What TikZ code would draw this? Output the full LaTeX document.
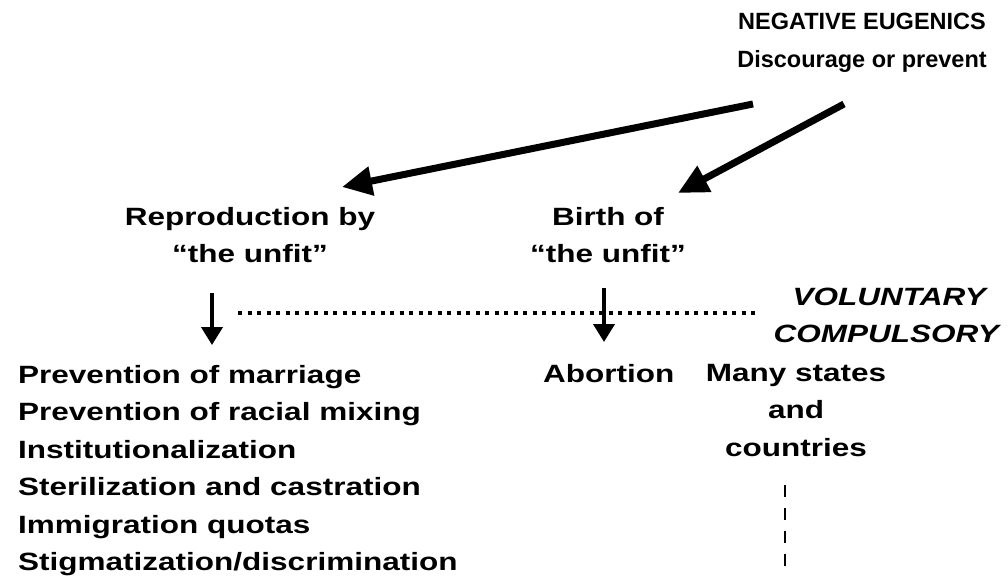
\documentclass[tikz,border=0pt]{standalone}
\usepackage{fontspec}
\setmainfont{Liberation Sans}[FakeStretch=1.26]
\newfontfamily\titlefont{Liberation Sans}
\usetikzlibrary{arrows.meta}
\begin{document}
\begin{tikzpicture}[x=1pt,y=-1pt, line join=round,
    every node/.style={inner sep=0pt, font=\fontsize{25}{37.5}\selectfont\bfseries},
    bigarrow/.style={line width=7pt, -{Triangle[length=30pt,width=28pt]}},
    downarrow/.style={line width=4pt, -{Triangle[length=18pt,width=21pt]}},
    dotrule/.style={line width=4pt, dash pattern=on 4pt off 5.5pt},
    dashrule/.style={line width=2.2pt, dash pattern=on 12pt off 11pt}]
    \useasboundingbox (0,0) rectangle (1008,581);
    %\draw[color=gray!50,dashed] (0,0) grid[step=50] (1008,581);
    \node[align=center, anchor=north, font=\titlefont\fontsize{23.5}{38}\selectfont\bfseries] (neg) at (862,13) {NEGATIVE EUGENICS\\Discourage or prevent};
    \node[align=center, anchor=north] (repro) at (250,207) {Reproduction by\\“the unfit”};
    \node[align=center, anchor=north] (birth) at (608,207) {Birth of\\“the unfit”};
    \node[anchor=base east, font=\fontsize{25}{37.5}\selectfont\bfseries\itshape] (vol) at (986,305) {VOLUNTARY};
    \node[anchor=base east, font=\fontsize{25}{37.5}\selectfont\bfseries\itshape] (comp) at (999,342) {COMPULSORY};
    \node[anchor=base west] (abort) at (543,382) {Abortion};
    \node[align=center, anchor=north] (many) at (796,364) {Many states\\and\\countries};
    \foreach \txt [count=\i] in {Prevention of marriage, Prevention of racial mixing, Institutionalization, Sterilization and castration, Immigration quotas, Stigmatization/discrimination}
    \node[anchor=base west] (meth\i) at (18,{383+37.5*(\i-1)}) {\txt};
    \coordinate (a1s) at (753,104); \coordinate (a1e) at (342,187);
    \coordinate (a2s) at (844,104); \coordinate (a2e) at (678,193);
    \coordinate (d1s) at (212,293); \coordinate (d1e) at (212,345);
    \coordinate (d2s) at (604,288); \coordinate (d2e) at (604,342);
    \coordinate (dotA) at (238,313); \coordinate (dotB) at (759,313);
    \coordinate (dashA) at (785,485); \coordinate (dashB) at (785,568);
    \draw[dotrule] (dotA)--(dotB);
    \draw[dashrule] (dashA)--(dashB);
    \draw[bigarrow] (a1s)--(a1e);
    \draw[bigarrow] (a2s)--(a2e);
    \draw[downarrow] (d1s)--(d1e);
    \draw[downarrow] (d2s)--(d2e);
\end{tikzpicture}
\end{document}
